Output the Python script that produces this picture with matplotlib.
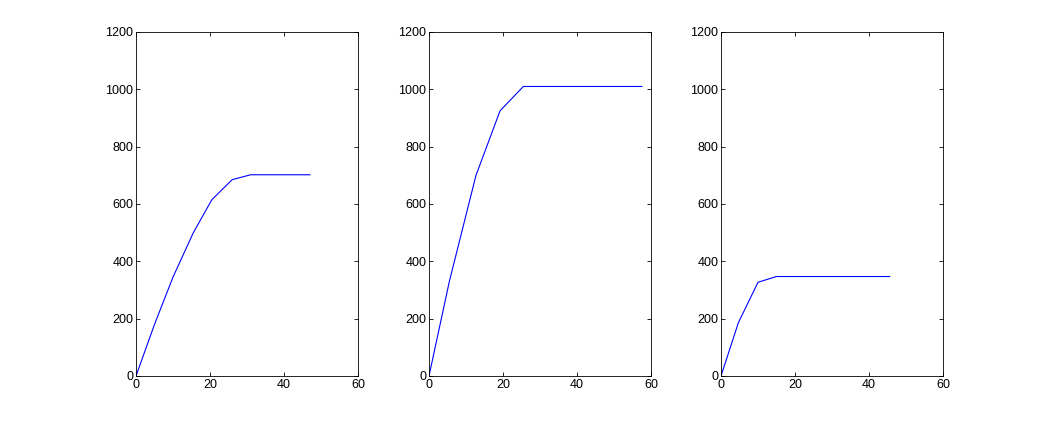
import matplotlib
matplotlib.use("Agg")
import matplotlib.pyplot as plt

# three curves
x1 = [0, 5, 10, 15.5, 20.5, 26, 31, 47]
y1 = [0, 180, 345, 500, 615, 685, 702, 702]

x2 = [0, 5.5, 12.7, 19.2, 25.5, 57.5]
y2 = [0, 330, 700, 925, 1010, 1010]

x3 = [0, 4.7, 10, 15, 45.6]
y3 = [0, 186, 327, 347, 347]

xticks = [0, 20, 40, 60]
yticks = [0, 200, 400, 600, 800, 1000, 1200]

plt.rcParams['font.family'] = ['Liberation Sans', 'DejaVu Sans']

fig = plt.figure(figsize=(10.43, 4.22), dpi=100)
lefts = [136, 429, 721]
data = [(x1, y1), (x2, y2), (x3, y3)]
for left, (xs, ys) in zip(lefts, data):
    ax = fig.add_axes([left/1043., 46/422., 222/1043., 344/422.])
    ax.plot(xs, ys, color=(0, 0, 1), lw=0.8)
    ax.set_xlim(0, 60)
    ax.set_ylim(0, 1200)
    ax.set_xticks(xticks)
    ax.set_yticks(yticks)
    ax.tick_params(direction='in', top=True, right=True, length=3,
                   width=0.6, labelsize=9, pad=2)
    for s in ax.spines.values():
        s.set_linewidth(0.6)

fig.savefig('out.png', dpi=100)
